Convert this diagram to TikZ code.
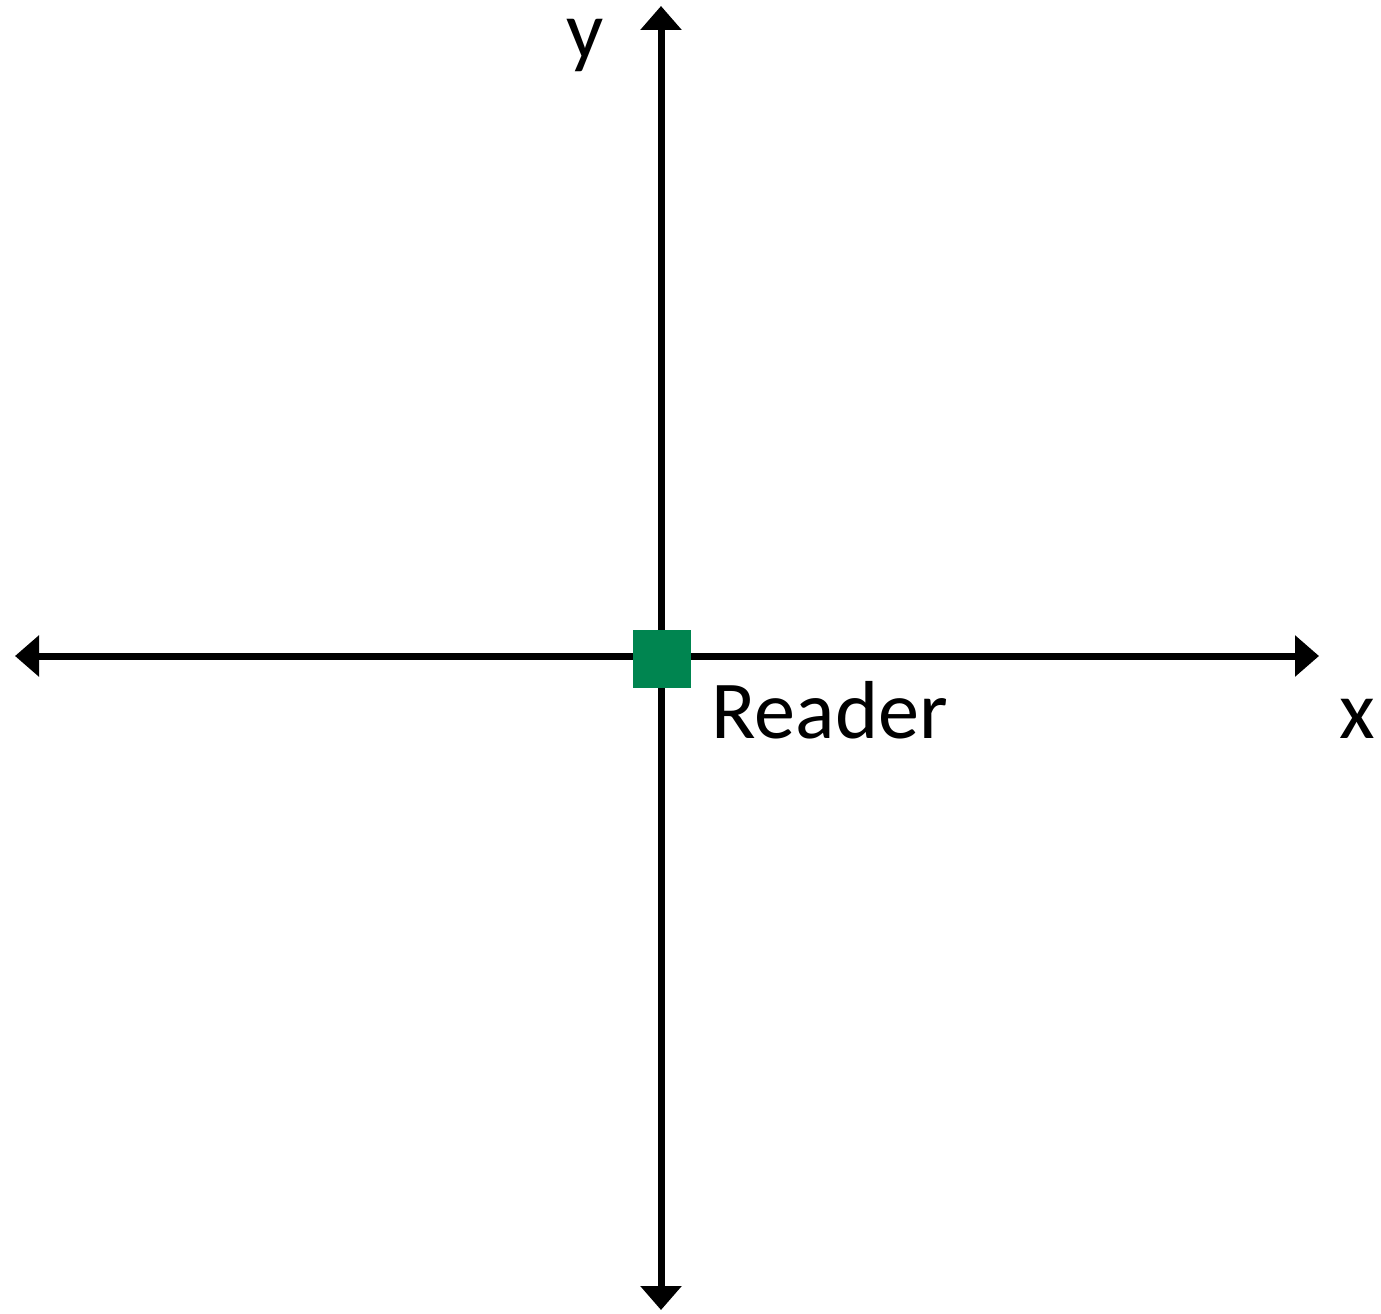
\documentclass[tikz,border=0pt]{standalone}
\usepackage{fontspec}
\setmainfont{Carlito}
\usepackage{tikz}
\usetikzlibrary{arrows.meta, positioning, calc}
\definecolor{TagGreen}{RGB}{0,133,80}

\begin{document}
\begin{tikzpicture}[
    axis/.style={{Triangle[length=0.24cm, width=0.40cm]}-{Triangle[length=0.24cm, width=0.40cm]},
                 line width=0.07cm, black},
    tag/.style={rectangle, fill=TagGreen, minimum size=0.58cm, inner sep=0pt},
    lbl/.style={font=\fontsize{23.4pt}{28pt}\selectfont, inner sep=0pt, anchor=base west}
]
\useasboundingbox (0,0) rectangle (13.81,13.13);

% ===================================================================
% AXES
% ===================================================================
\coordinate (xmin) at (0.15,6.57);
\coordinate (xmax) at (13.19,6.57);
\coordinate (ymin) at (6.61,0.03);
\coordinate (ymax) at (6.61,13.07);

\draw[axis] (xmin) -- (xmax);
\draw[axis] (ymin) -- (ymax);

\node[lbl] (xlbl) at (13.39,5.75) {x};
\node[lbl] (ylbl) at (5.66,12.54) {y};

% ===================================================================
% READER
% ===================================================================
\node[tag] (reader) at (6.62,6.54) {};
\node[lbl] (readerlbl) at (7.11,5.75) {Reader};

\end{tikzpicture}
\end{document}
